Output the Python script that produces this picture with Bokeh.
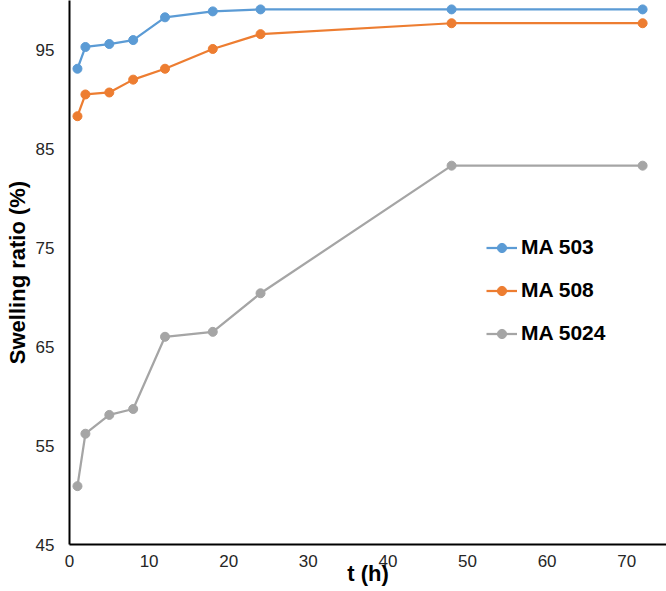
from bokeh.plotting import figure
from bokeh.models import FixedTicker, Range1d, Legend, LegendItem
from bokeh.embed import file_html
from bokeh.resources import INLINE

t_hours = [1, 2, 5, 8, 12, 18, 24, 48, 72]
ma503 = [93.1, 95.3, 95.6, 96.0, 98.3, 98.9, 99.1, 99.1, 99.1]
ma508 = [88.3, 90.5, 90.7, 92.0, 93.1, 95.1, 96.6, 97.7, 97.7]
ma5024 = [50.9, 56.2, 58.1, 58.7, 66.0, 66.5, 70.4, 83.3, 83.3]
series_names = ["MA 503", "MA 508", "MA 5024"]
x_ticks = [0, 10, 20, 30, 40, 50, 60, 70]
y_ticks = [45, 55, 65, 75, 85, 95]
x_title = "t (h)"
y_title = "Swelling ratio (%)"

colors = ["#5B9BD5", "#ED7D31", "#A5A5A5"]

p = figure(width=666, height=591, output_backend="svg", toolbar_location=None,
           x_range=Range1d(0, 75), y_range=Range1d(45, 100),
           min_border_left=69, min_border_right=0, min_border_top=0, min_border_bottom=47)
p.outline_line_color = None
p.xgrid.grid_line_color = None
p.ygrid.grid_line_color = None
p.background_fill_color = "white"
p.border_fill_color = "white"

items = []
for name, vals, c in zip(series_names, [ma503, ma508, ma5024], colors):
    r1 = p.line(t_hours, vals, line_color=c, line_width=2.25)
    r2 = p.scatter(t_hours, vals, size=9, fill_color=c, line_color=c)
    items.append(LegendItem(label=name, renderers=[r1, r2]))

for ax in (p.xaxis[0], p.yaxis[0]):
    ax.axis_line_color = "#000000"
    ax.axis_line_width = 2
    ax.major_tick_line_color = None
    ax.minor_tick_line_color = None
    ax.major_tick_out = 0
    ax.major_tick_in = 0
    ax.minor_tick_out = 0
    ax.minor_tick_in = 0
    ax.major_label_text_font = "Liberation Sans"
    ax.major_label_text_font_size = "17px"
    ax.major_label_text_color = "#262626"
    ax.axis_label_text_font = "Liberation Sans"
    ax.axis_label_text_font_style = "bold"
    ax.axis_label_text_font_size = "22px"
    ax.axis_label_text_color = "#000000"

p.xaxis.ticker = FixedTicker(ticks=x_ticks)
p.yaxis.ticker = FixedTicker(ticks=y_ticks)
p.xaxis.major_label_standoff = 10
p.yaxis.major_label_standoff = 15
p.xaxis.axis_label = x_title
p.xaxis.axis_label_standoff = -9
p.yaxis.axis_label = y_title
p.yaxis.axis_label_standoff = 3

legend = Legend(items=items, location=(417, 199), orientation="vertical",
                label_text_font="Liberation Sans", label_text_font_style="bold",
                label_text_font_size="21px", label_text_color="#000000",
                glyph_width=31, glyph_height=23, label_height=23, spacing=19,
                label_standoff=4, padding=0, margin=0,
                border_line_color=None, background_fill_alpha=0)
p.add_layout(legend, "center")

open("out.html", "w").write(file_html(p, INLINE))
